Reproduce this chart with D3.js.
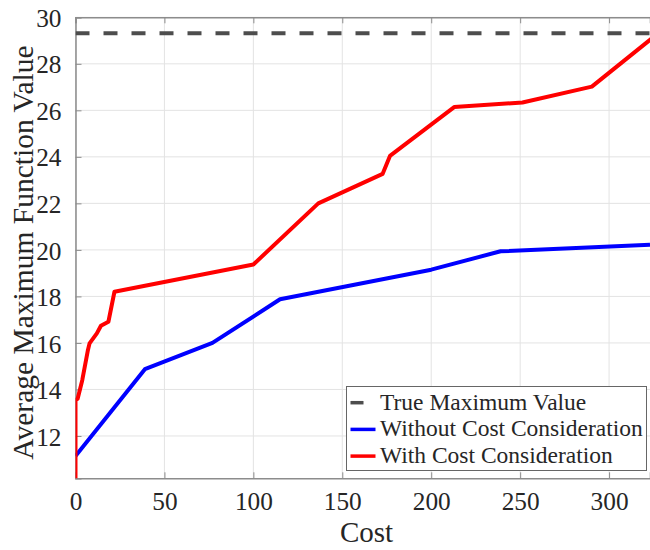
<!DOCTYPE html>
<html>
<head>
<meta charset="utf-8">
<script src="https://cdn.jsdelivr.net/npm/d3@7"></script>
<style>
  body { margin: 0; background: #fff; }
  text { font-family: "Liberation Serif", "Times New Roman", serif; fill: #262626; }
</style>
</head>
<body>
<svg id="chart"></svg>
<script>
// Datos
const trueMax = 29.31;
const costWithout = [0, 39, 77, 115, 200, 239, 323];
const valueWithout = [11.14, 14.87, 16.0, 17.88, 19.15, 19.94, 20.22];
const costWith = [0, 0, 1.2, 3.8, 7, 7.9, 12, 14.3, 18.5, 21.9, 100, 136.5, 172.7, 176.8, 212.9, 251.3, 290.3, 325];
const valueWith = [10.1, 13.55, 13.6, 14.4, 15.7, 15.98, 16.41, 16.74, 16.91, 18.2, 19.37, 22.0, 23.27, 24.04, 26.14, 26.34, 27.02, 29.15];
const xTicks = [0, 50, 100, 150, 200, 250, 300];
const yTicks = [12, 14, 16, 18, 20, 22, 24, 26, 28, 30];
const legendLabels = ["True Maximum Value", "Without Cost Consideration", "With Cost Consideration"];

const width = 650;
const height = 550;
const pLeft = 75.5, pTop = 17.3, pRight = 650, pBottom = 478.3;
const serif = '"Liberation Serif", "Times New Roman", serif';

const svg = d3.select("#chart")
    .attr("width", width)
    .attr("height", height);

const xScale = d3.scaleLinear().domain([0, 323]).range([pLeft, pRight]);
const yScale = d3.scaleLinear().domain([10.18, 30]).range([pBottom, pTop]);

svg.append("defs").append("clipPath").attr("id", "clip")
    .append("rect")
    .attr("x", pLeft).attr("y", pTop)
    .attr("width", pRight - pLeft).attr("height", pBottom - pTop);

// Rejilla
svg.append("g").selectAll("line").data(xTicks).join("line")
    .attr("x1", d => xScale(d)).attr("x2", d => xScale(d))
    .attr("y1", pTop).attr("y2", pBottom)
    .attr("stroke", "#e3e3e3").attr("stroke-width", 1);
svg.append("g").selectAll("line").data(yTicks).join("line")
    .attr("x1", pLeft).attr("x2", pRight)
    .attr("y1", d => yScale(d)).attr("y2", d => yScale(d))
    .attr("stroke", "#e3e3e3").attr("stroke-width", 1);

// Ejes
const xAxis = d3.axisBottom(xScale).tickValues(xTicks).tickSize(-6).tickPadding(14);
const xAxisTop = d3.axisTop(xScale).tickValues(xTicks).tickSize(-6).tickFormat("");
const yAxis = d3.axisLeft(yScale).tickValues(yTicks).tickSize(-6).tickPadding(14);

function styleAxis(g) {
    g.attr("font-family", serif).attr("font-size", 25.3);
    g.select(".domain").attr("stroke", "#8c8c8c").attr("stroke-width", 1.5);
    g.selectAll(".tick line").attr("stroke", "#8c8c8c");
    g.selectAll(".tick text").attr("fill", "#262626");
}

svg.append("g").attr("transform", `translate(0, ${pBottom})`).call(xAxis).call(styleAxis);
svg.append("g").attr("transform", `translate(0, ${pTop})`).call(xAxisTop).call(styleAxis);
svg.append("g").attr("transform", `translate(${pLeft}, 0)`).call(yAxis).call(styleAxis)
    .selectAll(".tick text").attr("dy", "0.36em");

// Series
const line = d3.line().x(d => xScale(d[0])).y(d => yScale(d[1]));
const plot = svg.append("g").attr("clip-path", "url(#clip)");

plot.append("line")
    .attr("x1", pLeft).attr("x2", pRight)
    .attr("y1", yScale(trueMax)).attr("y2", yScale(trueMax))
    .attr("stroke", "#4d4d4d").attr("stroke-width", 4)
    .attr("stroke-dasharray", "14,14");

plot.append("path")
    .datum(d3.zip(costWithout, valueWithout))
    .attr("d", line)
    .attr("fill", "none").attr("stroke", "#0000ff").attr("stroke-width", 4)
    .attr("stroke-linejoin", "round");

plot.append("path")
    .datum(d3.zip(costWith, valueWith))
    .attr("d", line)
    .attr("fill", "none").attr("stroke", "#ff0000").attr("stroke-width", 4)
    .attr("stroke-linejoin", "round");

// Etiquetas
svg.append("text")
    .attr("x", 366.5).attr("y", 541.5)
    .attr("text-anchor", "middle")
    .style("font-size", "29px")
    .text("Cost");

svg.append("text")
    .attr("transform", "translate(33, 252.5) rotate(-90)")
    .attr("text-anchor", "middle")
    .style("font-size", "29.5px")
    .text("Average Maximum Function Value");

// Leyenda
const legend = svg.append("g");
legend.append("rect")
    .attr("x", 346.5).attr("y", 386.5).attr("width", 300).attr("height", 84)
    .attr("fill", "#fff").attr("stroke", "#666").attr("stroke-width", 1);

const legendColors = ["#4d4d4d", "#0000ff", "#ff0000"];
legendLabels.forEach((label, i) => {
    const y = 402.7 + i * 26.7;
    legend.append("line")
        .attr("x1", 350.5).attr("x2", 375.5).attr("y1", y).attr("y2", y)
        .attr("stroke", legendColors[i]).attr("stroke-width", 3.5)
        .attr("stroke-dasharray", i === 0 ? "13,14" : null);
    legend.append("text")
        .attr("x", 380).attr("y", y + 7)
        .style("font-size", "23.5px")
        .text(label);
});
</script>
</body>
</html>
